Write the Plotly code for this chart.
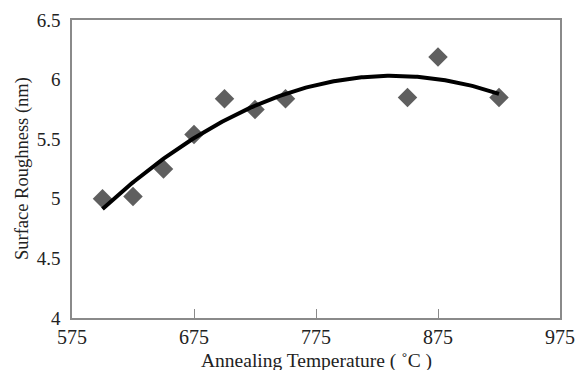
import numpy as np
import plotly.graph_objects as go

temperature = [600, 625, 650, 675, 700, 725, 750, 850, 875, 925]
roughness = [5.00, 5.02, 5.25, 5.54, 5.84, 5.75, 5.84, 5.85, 6.19, 5.85]
x_ticks = [575, 675, 775, 875, 975]
y_ticks = [4, 4.5, 5, 5.5, 6, 6.5]
y_tick_labels = ["4", "4.5", "5", "5.5", "6", "6.5"]
x_title = "Annealing Temperature ( ˚C )"
y_title = "Surface Roughness (nm)"

coef = np.polyfit(temperature, roughness, 2)
fit_x = np.linspace(min(temperature), max(temperature), 200)
fit_y = np.polyval(coef, fit_x)

fig = go.Figure()
fig.add_trace(go.Scatter(x=temperature, y=roughness, mode="markers",
                         marker=dict(symbol="diamond", size=15, color="#5f5f5f"),
                         showlegend=False))
fig.add_trace(go.Scatter(x=fit_x, y=fit_y, mode="lines",
                         line=dict(color="black", width=4), showlegend=False))

fam = "Liberation Serif, Times New Roman, serif"
fig.update_layout(
    width=579, height=362,
    margin=dict(l=64, r=27, t=12, b=52),
    paper_bgcolor="white", plot_bgcolor="white",
    font=dict(family=fam, size=20, color="#222"),
)
fig.update_xaxes(range=[575, 975], tickvals=x_ticks, showgrid=False, zeroline=False,
                 showline=True, linecolor="#8a8a8a", linewidth=1.5, mirror=True,
                 ticks="inside", ticklen=9, tickcolor="#8a8a8a", ticklabelstandoff=0,
                 automargin=False, tickfont=dict(size=20))
fig.update_yaxes(range=[4, 6.5], tickvals=y_ticks, ticktext=y_tick_labels,
                 showgrid=False, zeroline=False,
                 showline=True, linecolor="#8a8a8a", linewidth=1.5, mirror=True,
                 ticks="", ticklabelstandoff=6, automargin=False,
                 tickfont=dict(size=19))
fig.add_annotation(text=x_title, xref="paper", yref="paper", x=0.5, y=0,
                   yshift=-43, xanchor="center", yanchor="middle", showarrow=False,
                   font=dict(family=fam, size=19.5, color="#222"))
fig.add_annotation(text=y_title, xref="paper", yref="paper", x=0, y=0.5,
                   xshift=-50, xanchor="center", yanchor="middle", textangle=-90,
                   showarrow=False, font=dict(family=fam, size=18.5, color="#222"))
fig.write_html("out.html")
